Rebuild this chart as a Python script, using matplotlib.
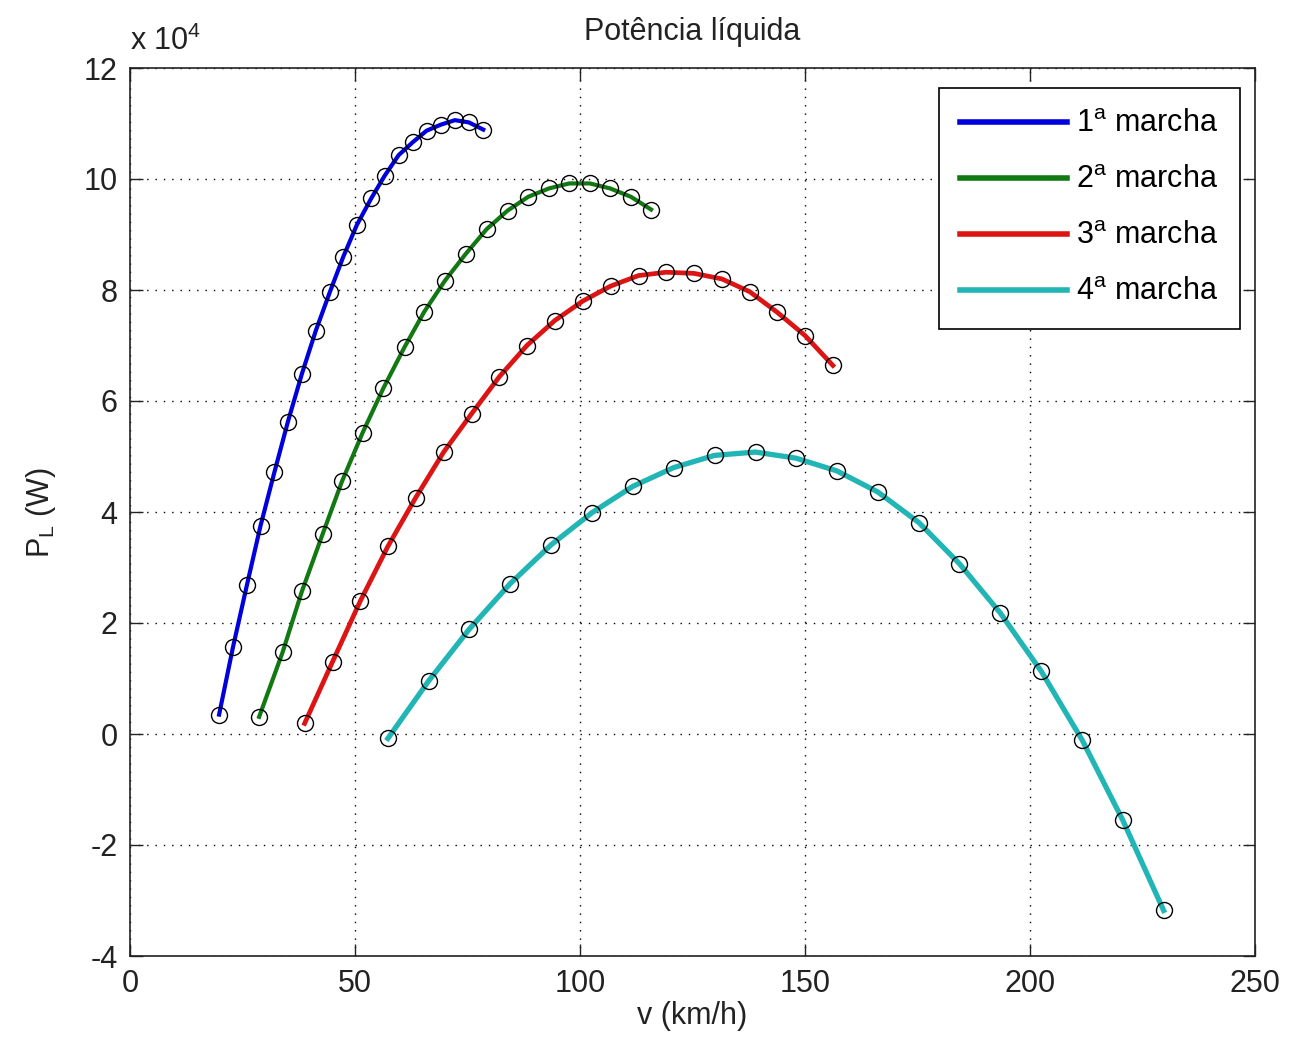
import matplotlib
matplotlib.use("Agg")
import matplotlib.pyplot as plt

plt.rcParams['font.family'] = ['Liberation Sans', 'DejaVu Sans']
plt.rcParams['mathtext.fontset'] = 'custom'
plt.rcParams['mathtext.rm'] = 'Liberation Sans'
plt.rcParams['axes.unicode_minus'] = False

# Data (v in km/h, P_L in units of 1e4 W)
v1 = [19.8, 22.9, 26.0, 29.0, 32.1, 35.1, 38.2, 41.3, 44.4, 47.4,
      50.4, 53.6, 56.6, 59.7, 62.8, 65.9, 69.1, 72.2, 75.3, 78.5]
p1 = [0.35, 1.57, 2.69, 3.75, 4.72, 5.63, 6.49, 7.27, 7.96, 8.60,
      9.17, 9.65, 10.06, 10.43, 10.66, 10.87, 10.98, 11.06, 11.02, 10.89]

v2 = [28.7, 33.9, 38.2, 42.8, 47.1, 51.7, 56.3, 61.0, 65.4, 70.0,
      74.6, 79.3, 83.9, 88.5, 93.1, 97.6, 102.2, 106.7, 111.3, 115.8]
p2 = [0.31, 1.47, 2.57, 3.60, 4.55, 5.43, 6.23, 6.97, 7.61, 8.17,
      8.65, 9.10, 9.43, 9.68, 9.83, 9.92, 9.92, 9.83, 9.68, 9.45]

v3 = [38.8, 45.0, 51.2, 57.3, 63.5, 69.7, 75.9, 82.1, 88.2, 94.4,
      100.6, 106.8, 113.0, 119.1, 125.3, 131.5, 137.7, 143.8, 150.0, 156.2]
p3 = [0.19, 1.30, 2.40, 3.38, 4.26, 5.08, 5.77, 6.44, 7.00, 7.45,
      7.80, 8.07, 8.26, 8.32, 8.30, 8.20, 7.97, 7.60, 7.18, 6.64]

v4 = [57.3, 66.4, 75.4, 84.5, 93.6, 102.7, 111.7, 120.8, 129.9, 139.0,
      148.0, 157.1, 166.2, 175.3, 184.3, 193.4, 202.5, 211.6, 220.6, 229.7]
p4 = [-0.08, 0.96, 1.89, 2.71, 3.41, 3.99, 4.46, 4.80, 5.02, 5.08,
      4.97, 4.74, 4.36, 3.81, 3.07, 2.18, 1.13, -0.11, -1.55, -3.18]

labels = [r'1$^{\mathrm{a}}$ marcha', r'2$^{\mathrm{a}}$ marcha',
          r'3$^{\mathrm{a}}$ marcha', r'4$^{\mathrm{a}}$ marcha']
colors = ['#0000dd', '#127812', '#dd1414', '#22b5b5']

xticks = [0, 50, 100, 150, 200, 250]
yticks = [-4, -2, 0, 2, 4, 6, 8, 10, 12]

fs = 22
tc = '#222222'
fig = plt.figure(figsize=(12.89, 10.48), dpi=100)
ax = fig.add_axes([130/1289, 1-956/1048, (1255-130)/1289, (956-68)/1048])

series = [(v1, p1), (v2, p2), (v3, p3), (v4, p4)]
widths = [3.0, 3.0, 3.4, 3.8]
handles = []
for (vx, py), c, lab, w in zip(series, colors, labels, widths):
    h, = ax.plot(vx, py, '-', color=c, lw=w, label=lab, zorder=3)
    ax.plot(vx, py, 'o', mfc='none', mec='black', ms=11.5, mew=1.0, zorder=4)
    handles.append(h)

ax.set_xlim(0, 250)
ax.set_ylim(-4, 12)
ax.set_xticks(xticks)
ax.set_yticks(yticks)
ax.grid(True, linestyle=(0, (1, 5)), color='black', lw=1.0)
ax.tick_params(direction='in', length=9, width=1, labelsize=fs, pad=9,
               top=True, right=True, colors=tc)
for s in ax.spines.values():
    s.set_linewidth(1.2)
    s.set_color(tc)

ax.set_title('Potência líquida', fontsize=fs, pad=20, color=tc)
ax.set_xlabel('v (km/h)', fontsize=fs, labelpad=2, color=tc)
ax.set_ylabel(r'P$_{\mathrm{L}}$ (W)', fontsize=fs, labelpad=18, color=tc)
ax.text(0, 1.012, r'x 10$^{4}$', transform=ax.transAxes, ha='left',
        va='bottom', fontsize=fs, color=tc)

leg = ax.legend(handles=handles, loc='upper right', fontsize=fs,
                bbox_to_anchor=(1 - 15/1125, 1 - 20/888),
                fancybox=False, edgecolor='black', framealpha=1,
                handlelength=3.5, handletextpad=0.3, labelspacing=0.85,
                borderpad=0.7, borderaxespad=0.0)
leg.get_frame().set_linewidth(1.2)
for lh in leg.get_lines():
    lh.set_linewidth(4)

fig.savefig('out.png', dpi=100)
